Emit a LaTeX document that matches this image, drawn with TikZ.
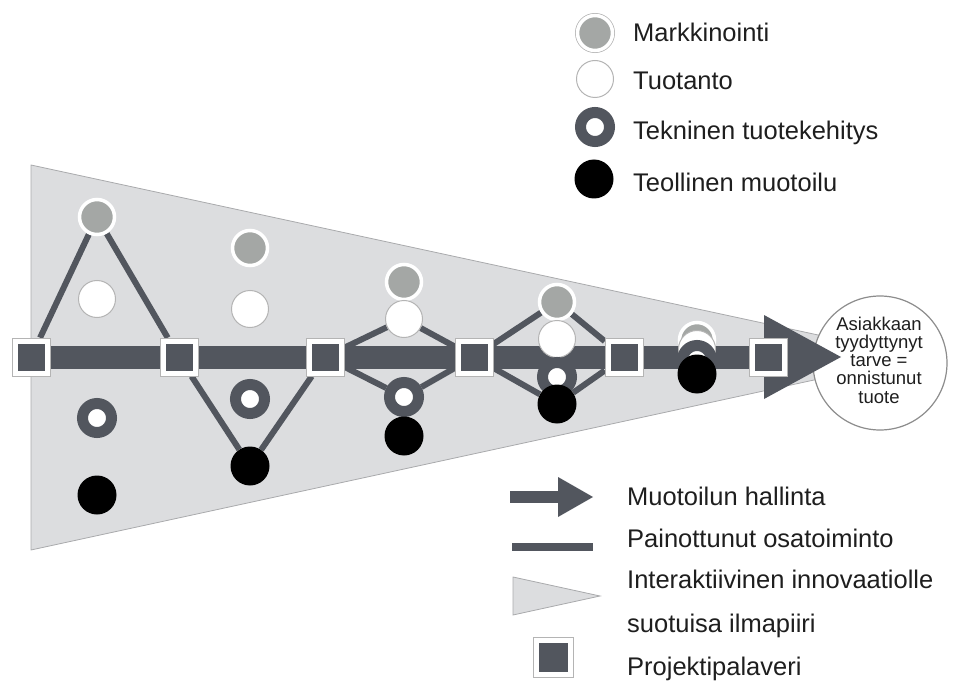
\documentclass[tikz,border=0pt]{standalone}
\usepackage{fontspec}
\setmainfont{Liberation Sans}
\definecolor{dark}{HTML}{52565E}
\definecolor{funnel}{HTML}{DCDDDF}
\definecolor{funneledge}{HTML}{A9AAAC}
\definecolor{mgray}{HTML}{A4A7A5}
\definecolor{rimgray}{HTML}{B4B4B4}
\definecolor{goaledge}{HTML}{8C8C8C}
\definecolor{txt}{HTML}{1E1E1E}
\pgfdeclarelayer{bg}
\pgfdeclarelayer{links}
\pgfsetlayers{bg,links,main}
\begin{document}
\begin{tikzpicture}[x=1pt,y=-1pt,
  mkt/.style={circle, inner sep=0pt, minimum size=35pt, fill=mgray, draw=white, line width=3.5pt},
  mktrim/.style={mkt, preaction={draw=rimgray, line width=5pt}},
  prod/.style={circle, inner sep=0pt, minimum size=37pt, fill=white, draw=rimgray, line width=1pt},
  tech/.style={circle, inner sep=0pt, minimum size=29pt, fill=white, draw=dark, line width=11pt},
  indd/.style={circle, inner sep=0pt, minimum size=39pt, fill=black},
  meeting/.style={rectangle, inner sep=0pt, minimum size=38pt, fill=white, draw=rimgray, line width=0.5pt,
    path picture={\fill[dark] ([shift={(5.5pt,5.5pt)}]path picture bounding box.south west) rectangle ([shift={(-5.5pt,-5.5pt)}]path picture bounding box.north east);}},
  link/.style={draw=dark, line width=6pt},
  lbl/.style={anchor=base west, inner sep=0pt, text=txt, font=\fontsize{25.5pt}{30pt}\selectfont},
  goalstyle/.style={circle, inner sep=0pt, minimum size=134pt, fill=white, draw=goaledge, line width=1.2pt},
  goaltext/.style={align=center, inner sep=0pt, text=txt, font=\fontsize{18.5pt}{18.2pt}\selectfont},
]
\useasboundingbox (0,0) rectangle (954,682);

\begin{pgfonlayer}{bg}
  \path[fill=funnel, draw=funneledge, line width=0.8pt] (31,165) -- (920,357) -- (31,550) -- cycle;
\end{pgfonlayer}

% goal circle, then the main arrow on top of it
\node[goalstyle] (goal) at (880,363) {};
\node[goaltext] (goaltxt) at (879,360) {Asiakkaan\\tyydyttynyt\\tarve =\\onnistunut\\tuote};
\coordinate (start) at (31,357);
\coordinate (hb) at (764,357);
\coordinate (tip) at (841,357);
\draw[dark, line width=23pt] (start) -- (hb);
\fill[dark] ([yshift=42pt]hb) -- (tip) -- ([yshift=-42pt]hb) -- cycle;

% project meetings
\foreach \n/\x in {0/31,1/179,2/325,3/474,4/624,5/768}
  \node[meeting] (s\n) at (\x,357) {};

% column 1
\node[mkt]  (m1) at (97,217) {};
\node[prod] (t1) at (97,299) {};
\node[tech] (k1) at (97,418) {};
\node[indd] (d1) at (97,495) {};
% column 2
\node[mkt]  (m2) at (250,248) {};
\node[prod] (t2) at (250,309) {};
\node[tech] (k2) at (250,399) {};
\node[indd] (d2) at (250,466) {};
% column 3
\node[mkt]  (m3) at (404,282) {};
\node[prod] (t3) at (404,319) {};
\node[tech] (k3) at (404,397) {};
\node[indd] (d3) at (404,436) {};
% column 4
\node[mkt]  (m4) at (557,302) {};
\node[prod] (t4) at (557,339) {};
\node[tech] (k4) at (557,377) {};
\node[indd] (d4) at (557,404) {};
% column 5
\node[mkt]  (m5) at (697,340) {};
\node[prod] (t5) at (697,349) {};
\node[tech] (k5) at (697,360) {};
\node[indd] (d5) at (697,374) {};

\begin{pgfonlayer}{links}
  \draw[link] (s0) -- (m1);
  \draw[link] (m1) -- (s1);
  \draw[link] (s1) -- (d2);
  \draw[link] (d2) -- (s2);
  \draw[link] (s2) -- (t3);
  \draw[link] (t3) -- (s3);
  \draw[link] (s2) -- (k3);
  \draw[link] (k3) -- (s3);
  \draw[link] (s3) -- (m4);
  \draw[link] (m4) -- (s4);
  \draw[link] (s3) -- (d4);
  \draw[link] (d4) -- (s4);
\end{pgfonlayer}

% top legend
\node[mktrim] (lm) at (595,33) {};
\node[prod]   (lt) at (595,79) {};
\node[tech]   (lk) at (595,127) {};
\node[indd]   (ld) at (594,179) {};
\node[lbl] (lmt) at (633,42) {Markkinointi};
\node[lbl] (ltt) at (633,90) {Tuotanto};
\node[lbl] (lkt) at (633,140) {Tekninen tuotekehitys};
\node[lbl] (ldt) at (633,192) {Teollinen muotoilu};

% bottom legend
\coordinate (la0) at (510,497);
\coordinate (la1) at (558,497);
\coordinate (la2) at (593,497);
\draw[dark, line width=12pt] (la0) -- (la1);
\fill[dark] ([yshift=20pt]la1) -- (la2) -- ([yshift=-20pt]la1) -- cycle;
\coordinate (ll0) at (512,547);
\coordinate (ll1) at (593,547);
\draw[dark, line width=7.5pt] (ll0) -- (ll1);
\path[fill=funnel, draw=funneledge, line width=0.8pt] (513,577) -- (600,596) -- (513,615) -- cycle;
\node[meeting, minimum size=40pt] (lsq) at (553,657.5) {};
\node[lbl] (lat) at (627,505) {Muotoilun hallinta};
\node[lbl] (llt) at (627,547) {Painottunut osatoiminto};
\node[lbl] (lft1) at (627,588) {Interaktiivinen innovaatiolle};
\node[lbl] (lft2) at (627,632) {suotuisa ilmapiiri};
\node[lbl] (lst) at (627,675) {Projektipalaveri};
\end{tikzpicture}
\end{document}
